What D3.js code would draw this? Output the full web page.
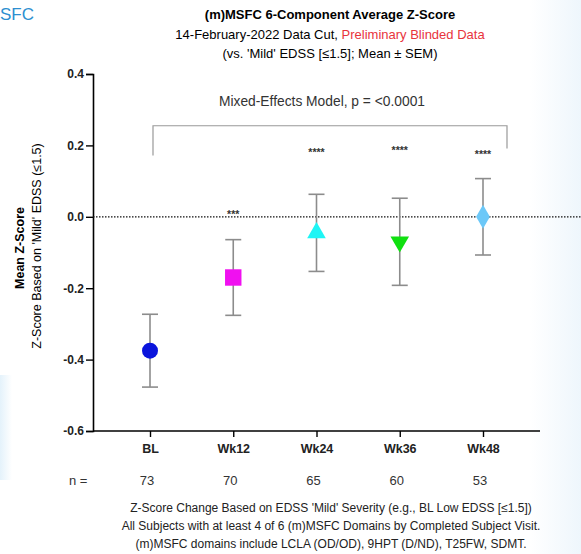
<!DOCTYPE html>
<html>
<head>
<meta charset="utf-8">
<script src="https://cdn.jsdelivr.net/npm/d3@7"></script>
<style>
  body { margin: 0; background: #fff; }
  svg { font-family: "Liberation Sans", Arial, sans-serif; }
</style>
</head>
<body>
<script>
const width = 581;
const height = 554;
const margin = { top: 74, right: 41, bottom: 123, left: 93 };

const visits = ["BL", "Wk12", "Wk24", "Wk36", "Wk48"];
const means = [-0.375, -0.17, -0.045, -0.07, 0.0];
const sems = [0.102, 0.106, 0.108, 0.122, 0.107];
const counts = [73, 70, 65, 60, 53];
const stars = ["", "***", "****", "****", "****"];
const starValues = [null, 0.01, 0.185, 0.19, 0.18];
const yTicks = [0.4, 0.2, 0.0, -0.2, -0.4, -0.6];
const symbols = [d3.symbolCircle, d3.symbolSquare, d3.symbolTriangle, d3.symbolTriangle, d3.symbolDiamond];
const colors = ["#0a14dc", "#f010f0", "#1ef5f5", "#10e010", "#6cc8f8"];

const svg = d3.select("body").append("svg")
  .attr("width", width)
  .attr("height", height);

// faint side tints from the slide background
const defs = svg.append("defs");
const grad = defs.append("linearGradient").attr("id", "edge");
grad.append("stop").attr("offset", "0").attr("stop-color", "#fff");
grad.append("stop").attr("offset", "1").attr("stop-color", "#eef6fc");
svg.append("rect").attr("x", 530).attr("y", 0).attr("width", 51).attr("height", height).attr("fill", "url(#edge)");
const gradL = defs.append("linearGradient").attr("id", "edgeL");
gradL.append("stop").attr("offset", "0").attr("stop-color", "#e4f2fb");
gradL.append("stop").attr("offset", "1").attr("stop-color", "#fff");
svg.append("rect").attr("x", 0).attr("y", 375).attr("width", 12).attr("height", 105).attr("fill", "url(#edgeL)");

svg.append("text").attr("x", 0).attr("y", 20)
  .attr("font-size", 17).attr("fill", "#2d8fd0").text("SFC");

const titles = svg.append("g").attr("text-anchor", "middle").attr("font-size", 13);
titles.append("text").attr("x", 330).attr("y", 19).attr("font-weight", "bold")
  .text("(m)MSFC 6-Component Average Z-Score");
const t2 = titles.append("text").attr("x", 330).attr("y", 39);
t2.append("tspan").text("14-February-2022 Data Cut, ");
t2.append("tspan").attr("fill", "#e8333c").text("Preliminary Blinded Data");
titles.append("text").attr("x", 330).attr("y", 58).text("(vs. 'Mild' EDSS [\u22641.5]; Mean \u00b1 SEM)");

const y = d3.scaleLinear().domain([-0.6, 0.4]).range([431, 74]);
const x = d3.scalePoint().domain(visits).range([150, 483]);

// y axis
const yAxis = svg.append("g").attr("transform", `translate(${margin.left},0)`)
  .call(d3.axisLeft(y).tickValues(yTicks).tickSize(7).tickPadding(2));
yAxis.select(".domain").attr("stroke-width", 1.6);
yAxis.selectAll(".tick line").attr("stroke-width", 1.4);
yAxis.selectAll(".tick text").attr("font-size", 12).attr("font-weight", "bold")
  .attr("font-family", "Liberation Sans, Arial, sans-serif").attr("fill", "#222")
  .text(d => d3.format(".1f")(d).replace("\u2212", "-"));

// x axis
const xAxis = svg.append("g").attr("transform", `translate(0,${y(-0.6)})`)
  .call(d3.axisBottom(x).tickSize(6).tickSizeOuter(0).tickPadding(7));
xAxis.select(".domain").attr("d", `M${margin.left},0H${width - margin.right}`).attr("stroke-width", 1.6);
xAxis.selectAll(".tick line").attr("stroke-width", 1.4);
xAxis.selectAll(".tick text").attr("font-size", 12.5).attr("font-weight", "bold")
  .attr("font-family", "Liberation Sans, Arial, sans-serif").attr("fill", "#222");

// y labels
svg.append("text").attr("transform", `translate(24,248) rotate(-90)`)
  .attr("text-anchor", "middle").attr("font-size", 12.5).attr("font-weight", "bold")
  .text("Mean Z-Score");
svg.append("text").attr("transform", `translate(41,246) rotate(-90)`)
  .attr("text-anchor", "middle").attr("font-size", 12.5)
  .text("Z-Score Based on 'Mild' EDSS (\u22641.5)");

// reference line at zero
svg.append("line")
  .attr("x1", margin.left).attr("x2", width)
  .attr("y1", y(0)).attr("y2", y(0))
  .attr("stroke", "#111").attr("stroke-width", 1.2).attr("stroke-dasharray", "1.5,1.5");

// bracket
svg.append("path")
  .attr("d", `M${x("BL") + 3},${y(0.2) + 10}V${y(0.255)}H${x("Wk48") + 24}V${y(0.2) + 3}`)
  .attr("fill", "none").attr("stroke", "#999").attr("stroke-width", 1.2);
svg.append("text").attr("x", 322).attr("y", y(0.31))
  .attr("text-anchor", "middle").attr("font-size", 13.8).attr("fill", "#333")
  .text("Mixed-Effects Model, p = <0.0001");

const data = visits.map((v, i) => ({ v, m: means[i], s: sems[i], sym: symbols[i], c: colors[i], i }));

// error bars
const eb = svg.append("g").attr("stroke", "#8c8c8c").attr("stroke-width", 1.6);
eb.selectAll(".stem").data(data).join("line")
  .attr("x1", d => x(d.v)).attr("x2", d => x(d.v))
  .attr("y1", d => y(d.m + d.s)).attr("y2", d => y(d.m - d.s));
eb.selectAll(".capT").data(data).join("line")
  .attr("x1", d => x(d.v) - 8).attr("x2", d => x(d.v) + 8)
  .attr("y1", d => y(d.m + d.s)).attr("y2", d => y(d.m + d.s));
eb.selectAll(".capB").data(data).join("line")
  .attr("x1", d => x(d.v) - 8).attr("x2", d => x(d.v) + 8)
  .attr("y1", d => y(d.m - d.s)).attr("y2", d => y(d.m - d.s));

// markers
const sizes = [200, 270, 150, 150, 165];
svg.append("g").selectAll("path").data(data).join("path")
  .attr("d", d => d3.symbol().type(d.sym).size(sizes[d.i])())
  .attr("transform", d => `translate(${x(d.v)},${y(d.m)})${d.i === 3 ? " rotate(180)" : ""}`)
  .attr("fill", d => d.c);

// significance stars
svg.append("g").selectAll("text").data(visits.filter((v, i) => stars[i])).join("text")
  .attr("x", d => x(d))
  .attr("y", d => y(starValues[visits.indexOf(d)]) + 5)
  .attr("text-anchor", "middle").attr("font-size", 10.5).attr("font-weight", "bold").attr("fill", "#333")
  .text(d => stars[visits.indexOf(d)]);

// n row
const nRow = svg.append("g").attr("font-size", 13).attr("fill", "#333");
nRow.append("text").attr("x", 69).attr("y", 485).text("n =");
nRow.selectAll(".n").data(counts).join("text")
  .attr("x", (d, i) => x(visits[i]) - 3).attr("y", 485)
  .attr("text-anchor", "middle").text(d => d);

// footnotes
const notes = [
  "Z-Score Change Based on EDSS 'Mild' Severity (e.g., BL Low EDSS [\u22641.5])",
  "All Subjects with at least 4 of 6 (m)MSFC Domains by Completed Subject Visit.",
  "(m)MSFC domains include LCLA (OD/OD), 9HPT (D/ND), T25FW, SDMT."
];
svg.append("g").selectAll("text").data(notes).join("text")
  .attr("x", 331).attr("y", (d, i) => 512 + i * 18)
  .attr("text-anchor", "middle").attr("font-size", 12).attr("fill", "#222")
  .text(d => d);
</script>
</body>
</html>
